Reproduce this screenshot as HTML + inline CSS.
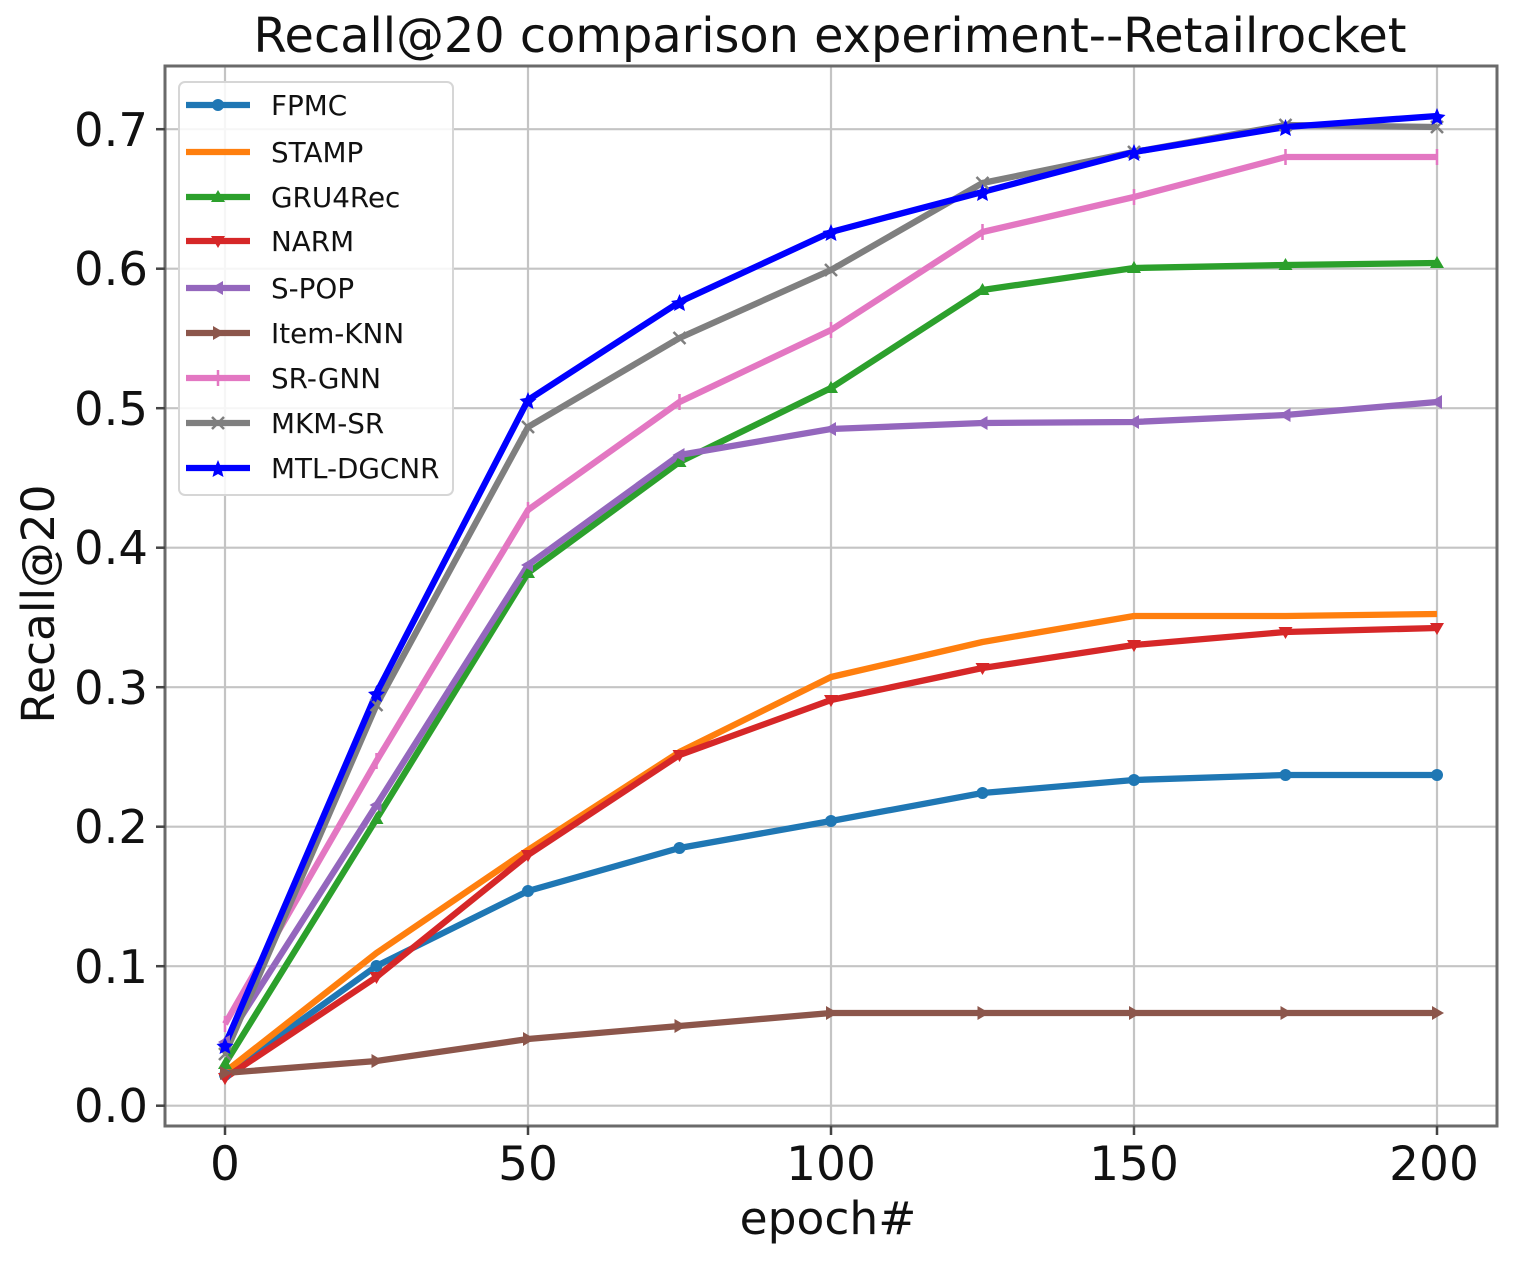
<!DOCTYPE html>
<html><head><meta charset="utf-8"><style>
html,body{margin:0;padding:0;background:#fff;}
svg{display:block;}
text{font-family:"DejaVu Sans","Liberation Sans",sans-serif;fill:#111;}
</style></head><body>
<svg width="1521" height="1261" viewBox="0 0 1521 1261" xmlns="http://www.w3.org/2000/svg">
<rect width="1521" height="1261" fill="#fff"/>
<!-- grid -->
<g stroke="#c4c4c4" stroke-width="2.2">
<line x1="225" y1="66" x2="225" y2="1126"/>
<line x1="528" y1="66" x2="528" y2="1126"/>
<line x1="831" y1="66" x2="831" y2="1126"/>
<line x1="1134" y1="66" x2="1134" y2="1126"/>
<line x1="1437" y1="66" x2="1437" y2="1126"/>
<line x1="165" y1="1105.7" x2="1497" y2="1105.7"/>
<line x1="165" y1="966.2" x2="1497" y2="966.2"/>
<line x1="165" y1="826.7" x2="1497" y2="826.7"/>
<line x1="165" y1="687.2" x2="1497" y2="687.2"/>
<line x1="165" y1="547.7" x2="1497" y2="547.7"/>
<line x1="165" y1="408.2" x2="1497" y2="408.2"/>
<line x1="165" y1="268.7" x2="1497" y2="268.7"/>
<line x1="165" y1="129.2" x2="1497" y2="129.2"/>
</g>
<!-- series -->
<g fill="none" stroke-width="6.3" stroke-linejoin="round" stroke-linecap="butt">
<polyline stroke="#1f77b4" points="225,1075 376.5,966 528,891 679.5,848 831,821 982.5,793 1134,780 1285.5,775 1437,775"/>
<polyline stroke="#ff7f0e" points="225,1072 376.5,953 528,850 679.5,752 831,677 982.5,642 1134,616 1285.5,616 1437,614"/>
<polyline stroke="#2ca02c" points="225,1064 376.5,819 528,573 679.5,462 831,388 982.5,290 1134,268 1285.5,265 1437,263"/>
<polyline stroke="#d62728" points="225,1078 376.5,977 528,855 679.5,755 831,700 982.5,668 1134,645 1285.5,632 1437,628"/>
<polyline stroke="#9467bd" points="225,1042 376.5,805 528,565 679.5,455 831,429 982.5,423 1134,422 1285.5,415 1437,402"/>
<polyline stroke="#8c564b" points="225,1073 376.5,1061 528,1039 679.5,1026 831,1013 982.5,1013 1134,1013 1285.5,1013 1437,1013"/>
<polyline stroke="#e377c2" points="225,1024 376.5,761 528,510 679.5,402 831,330 982.5,232 1134,197 1285.5,157 1437,157"/>
<polyline stroke="#7f7f7f" points="225,1054 376.5,705 528,427 679.5,338 831,270 982.5,183 1134,152 1285.5,125 1437,127"/>
<polyline stroke="#0000ff" points="225,1045 376.5,693 528,400 679.5,302 831,232 982.5,192 1134,152 1285.5,127 1437,116"/>
</g>
<!-- markers -->
<g fill="#1f77b4">
<circle cx="225" cy="1075" r="6"/><circle cx="376.5" cy="966" r="6"/><circle cx="528" cy="891" r="6"/><circle cx="679.5" cy="848" r="6"/><circle cx="831" cy="821" r="6"/><circle cx="982.5" cy="793" r="6"/><circle cx="1134" cy="780" r="6"/><circle cx="1285.5" cy="775" r="6"/><circle cx="1437" cy="775" r="6"/>
</g>
<g fill="#2ca02c">
<path d="M225,1057 l7,12 h-14z M376.5,812 l7,12 h-14z M528,566 l7,12 h-14z M679.5,455 l7,12 h-14z M831,381 l7,12 h-14z M982.5,283 l7,12 h-14z M1134,261 l7,12 h-14z M1285.5,258 l7,12 h-14z M1437,256 l7,12 h-14z"/>
</g>
<g fill="#d62728">
<path d="M225,1085 l7,-12 h-14z M376.5,984 l7,-12 h-14z M528,862 l7,-12 h-14z M679.5,762 l7,-12 h-14z M831,707 l7,-12 h-14z M982.5,675 l7,-12 h-14z M1134,652 l7,-12 h-14z M1285.5,639 l7,-12 h-14z M1437,635 l7,-12 h-14z"/>
</g>
<g fill="#9467bd">
<path d="M218,1042 l12,-7 v14z M369.5,805 l12,-7 v14z M521,565 l12,-7 v14z M672.5,455 l12,-7 v14z M824,429 l12,-7 v14z M975.5,423 l12,-7 v14z M1127,422 l12,-7 v14z M1278.5,415 l12,-7 v14z M1430,402 l12,-7 v14z"/>
</g>
<g fill="#8c564b">
<path d="M232,1073 l-12,-7 v14z M383.5,1061 l-12,-7 v14z M535,1039 l-12,-7 v14z M686.5,1026 l-12,-7 v14z M838,1013 l-12,-7 v14z M989.5,1013 l-12,-7 v14z M1141,1013 l-12,-7 v14z M1292.5,1013 l-12,-7 v14z M1444,1013 l-12,-7 v14z"/>
</g>
<g stroke="#e377c2" stroke-width="2.5">
<path d="M225,1016 v16 M376.5,753 v16 M528,502 v16 M679.5,394 v16 M831,322 v16 M982.5,224 v16 M1134,189 v16 M1285.5,149 v16 M1437,149 v16"/>
</g>
<g stroke="#7f7f7f" stroke-width="2.5">
<path d="M219,1048 l12,12 M231,1048 l-12,12 M370.5,699 l12,12 M382.5,699 l-12,12 M522,421 l12,12 M534,421 l-12,12 M673.5,332 l12,12 M685.5,332 l-12,12 M825,264 l12,12 M837,264 l-12,12 M976.5,177 l12,12 M988.5,177 l-12,12 M1128,146 l12,12 M1140,146 l-12,12 M1279.5,119 l12,12 M1291.5,119 l-12,12 M1431,121 l12,12 M1443,121 l-12,12"/>
</g>
<g fill="#0000ff">
<path d="M225,1037 l2.5,6 6,1 -4.5,4 1.5,6 -5.5,-3 -5.5,3 1.5,-6 -4.5,-4 6,-1z" />
<path d="M376.5,685 l2.5,6 6,1 -4.5,4 1.5,6 -5.5,-3 -5.5,3 1.5,-6 -4.5,-4 6,-1z" />
<path d="M528,392 l2.5,6 6,1 -4.5,4 1.5,6 -5.5,-3 -5.5,3 1.5,-6 -4.5,-4 6,-1z" />
<path d="M679.5,294 l2.5,6 6,1 -4.5,4 1.5,6 -5.5,-3 -5.5,3 1.5,-6 -4.5,-4 6,-1z" />
<path d="M831,224 l2.5,6 6,1 -4.5,4 1.5,6 -5.5,-3 -5.5,3 1.5,-6 -4.5,-4 6,-1z" />
<path d="M982.5,184 l2.5,6 6,1 -4.5,4 1.5,6 -5.5,-3 -5.5,3 1.5,-6 -4.5,-4 6,-1z" />
<path d="M1134,144 l2.5,6 6,1 -4.5,4 1.5,6 -5.5,-3 -5.5,3 1.5,-6 -4.5,-4 6,-1z" />
<path d="M1285.5,119 l2.5,6 6,1 -4.5,4 1.5,6 -5.5,-3 -5.5,3 1.5,-6 -4.5,-4 6,-1z" />
<path d="M1437,108 l2.5,6 6,1 -4.5,4 1.5,6 -5.5,-3 -5.5,3 1.5,-6 -4.5,-4 6,-1z" />
</g>
<!-- spines -->
<rect x="165" y="66" width="1332" height="1060" fill="none" stroke="#6a6a6a" stroke-width="3"/>
<!-- ticks -->
<g stroke="#444" stroke-width="2.5">
<line x1="156" y1="1105.7" x2="165" y2="1105.7"/>
<line x1="156" y1="966.2" x2="165" y2="966.2"/>
<line x1="156" y1="826.7" x2="165" y2="826.7"/>
<line x1="156" y1="687.2" x2="165" y2="687.2"/>
<line x1="156" y1="547.7" x2="165" y2="547.7"/>
<line x1="156" y1="408.2" x2="165" y2="408.2"/>
<line x1="156" y1="268.7" x2="165" y2="268.7"/>
<line x1="156" y1="129.2" x2="165" y2="129.2"/>
<line x1="225" y1="1126" x2="225" y2="1135"/>
<line x1="528" y1="1126" x2="528" y2="1135"/>
<line x1="831" y1="1126" x2="831" y2="1135"/>
<line x1="1134" y1="1126" x2="1134" y2="1135"/>
<line x1="1437" y1="1126" x2="1437" y2="1135"/>
</g>
<!-- tick labels -->
<g font-size="46.5" text-anchor="end">
<text x="148" y="1122">0.0</text>
<text x="148" y="983">0.1</text>
<text x="148" y="843">0.2</text>
<text x="148" y="704">0.3</text>
<text x="148" y="564">0.4</text>
<text x="148" y="425">0.5</text>
<text x="148" y="285">0.6</text>
<text x="148" y="146">0.7</text>
</g>
<g font-size="47" text-anchor="middle">
<text x="225" y="1180">0</text>
<text x="528" y="1180">50</text>
<text x="831" y="1180">100</text>
<text x="1134" y="1180">150</text>
<text x="1434" y="1180">200</text>
</g>
<text x="828" y="1234" font-size="45.5" text-anchor="middle">epoch#</text>
<text transform="translate(54,604) rotate(-90)" font-size="45.5" text-anchor="middle">Recall@20</text>
<text x="830" y="52" font-size="47.8" text-anchor="middle">Recall@20 comparison experiment--Retailrocket</text>
<!-- legend -->
<rect x="179" y="82" width="274" height="413" rx="6" fill="#fff" fill-opacity="0.85" stroke="#d6d6d6" stroke-width="2"/>
<g stroke-width="6.3">
<line x1="186" y1="105" x2="250" y2="105" stroke="#1f77b4"/>
<line x1="186" y1="152" x2="250" y2="152" stroke="#ff7f0e"/>
<line x1="186" y1="197" x2="250" y2="197" stroke="#2ca02c"/>
<line x1="186" y1="241" x2="250" y2="241" stroke="#d62728"/>
<line x1="186" y1="288" x2="250" y2="288" stroke="#9467bd"/>
<line x1="186" y1="333" x2="250" y2="333" stroke="#8c564b"/>
<line x1="186" y1="378" x2="250" y2="378" stroke="#e377c2"/>
<line x1="186" y1="423" x2="250" y2="423" stroke="#7f7f7f"/>
<line x1="186" y1="468" x2="250" y2="468" stroke="#0000ff"/>
</g>
<circle cx="218" cy="105" r="6" fill="#1f77b4"/>
<path d="M218,190 l7,12 h-14z" fill="#2ca02c"/>
<path d="M218,248 l7,-12 h-14z" fill="#d62728"/>
<path d="M211,288 l12,-7 v14z" fill="#9467bd"/>
<path d="M225,333 l-12,-7 v14z" fill="#8c564b"/>
<path d="M218,370 v16" stroke="#e377c2" stroke-width="2.5"/>
<path d="M212,417 l12,12 M224,417 l-12,12" stroke="#7f7f7f" stroke-width="2.5"/>
<path d="M218,460 l2.5,6 6,1 -4.5,4 1.5,6 -5.5,-3 -5.5,3 1.5,-6 -4.5,-4 6,-1z" fill="#0000ff"/>
<g font-size="27.8">
<text x="271" y="115">FPMC</text>
<text x="271" y="162">STAMP</text>
<text x="271" y="207">GRU4Rec</text>
<text x="271" y="251">NARM</text>
<text x="271" y="298">S-POP</text>
<text x="271" y="343">Item-KNN</text>
<text x="271" y="388">SR-GNN</text>
<text x="271" y="433">MKM-SR</text>
<text x="271" y="478">MTL-DGCNR</text>
</g>
</svg>
</body></html>
